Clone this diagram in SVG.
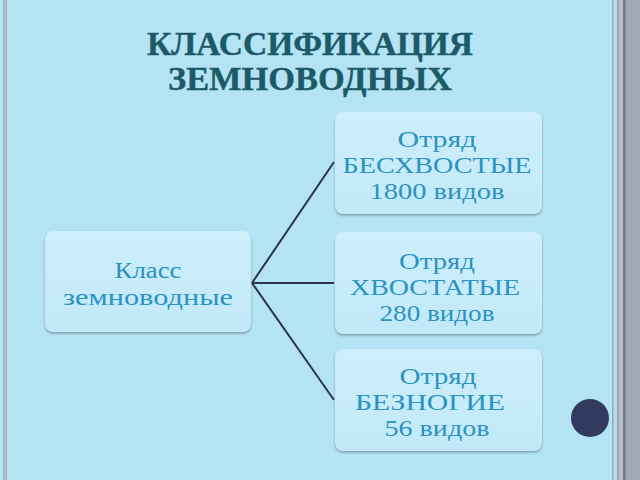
<svg xmlns="http://www.w3.org/2000/svg" width="640" height="480" viewBox="0 0 640 480">
<defs>
<linearGradient id="nodeFill" x1="0" y1="0" x2="0" y2="1">
<stop offset="0" stop-color="#cdeefb"/>
<stop offset="1" stop-color="#c2e9f8"/>
</linearGradient>
<filter id="sh" x="-5%" y="-5%" width="110%" height="115%">
<feDropShadow dx="0" dy="1.5" stdDeviation="1" flood-color="#5a6a78" flood-opacity="0.6"/>
</filter>
</defs>
<style>
.node rect{fill:url(#nodeFill);filter:url(#sh);}
.node text{font-family:"Liberation Serif","DejaVu Serif",serif;font-size:23px;fill:#2a93c4;text-anchor:middle;}
.title{font-family:"Liberation Serif","DejaVu Serif",serif;font-weight:bold;font-size:33px;fill:#1c5a68;stroke:#1c5a68;stroke-width:0.4;text-anchor:middle;}
.conn line{stroke:#2b3352;stroke-width:2;}
</style>
<rect x="0" y="0" width="640" height="480" fill="#b4e3f4"/>
<rect x="3" y="0" width="4" height="480" fill="#a3adbb"/>
<rect x="4.5" y="0" width="1" height="480" fill="#c0c8d2"/>
<rect x="612" y="0" width="28" height="480" fill="#a2a7b4"/>
<rect x="613.5" y="0" width="3.5" height="480" fill="#b3dcec"/>
<rect x="619" y="0" width="4" height="480" fill="#bcc0cb"/>
<rect x="623" y="0" width="2.5" height="480" fill="#707889"/>
<text class="title" x="310" y="55" textLength="326" lengthAdjust="spacingAndGlyphs">КЛАССИФИКАЦИЯ</text>
<text class="title" x="310" y="90" textLength="284" lengthAdjust="spacingAndGlyphs">ЗЕМНОВОДНЫХ</text>
<g class="conn">
<line x1="252" y1="283" x2="334" y2="162"/>
<line x1="252" y1="283" x2="334" y2="283"/>
<line x1="252" y1="283" x2="334" y2="400"/>
</g>
<g id="node-class" class="node">
<rect x="45" y="231" width="206" height="101" rx="8"/>
<text x="148" y="278" textLength="67" lengthAdjust="spacingAndGlyphs">Класс</text>
<text x="148" y="305" textLength="170" lengthAdjust="spacingAndGlyphs">земноводные</text>
</g>
<g id="node-bes" class="node">
<rect x="335" y="112" width="207" height="102" rx="8"/>
<text x="437" y="147" textLength="79" lengthAdjust="spacingAndGlyphs">Отряд</text>
<text x="437" y="173" textLength="189" lengthAdjust="spacingAndGlyphs">БЕСХВОСТЫЕ</text>
<text x="437" y="199" textLength="135" lengthAdjust="spacingAndGlyphs">1800 видов</text>
</g>
<g id="node-hvost" class="node">
<rect x="335" y="232" width="207" height="102" rx="8"/>
<text x="437" y="269" textLength="76" lengthAdjust="spacingAndGlyphs">Отряд</text>
<text x="435" y="295" textLength="170" lengthAdjust="spacingAndGlyphs">ХВОСТАТЫЕ</text>
<text x="437" y="321" textLength="115" lengthAdjust="spacingAndGlyphs">280 видов</text>
</g>
<g id="node-bez" class="node">
<rect x="335" y="349" width="207" height="102" rx="8"/>
<text x="438" y="384" textLength="77" lengthAdjust="spacingAndGlyphs">Отряд</text>
<text x="430" y="410" textLength="150" lengthAdjust="spacingAndGlyphs">БЕЗНОГИЕ</text>
<text x="437" y="436" textLength="105" lengthAdjust="spacingAndGlyphs">56 видов</text>
</g>
<circle cx="590" cy="418" r="19" fill="#333a60"/>
</svg>
